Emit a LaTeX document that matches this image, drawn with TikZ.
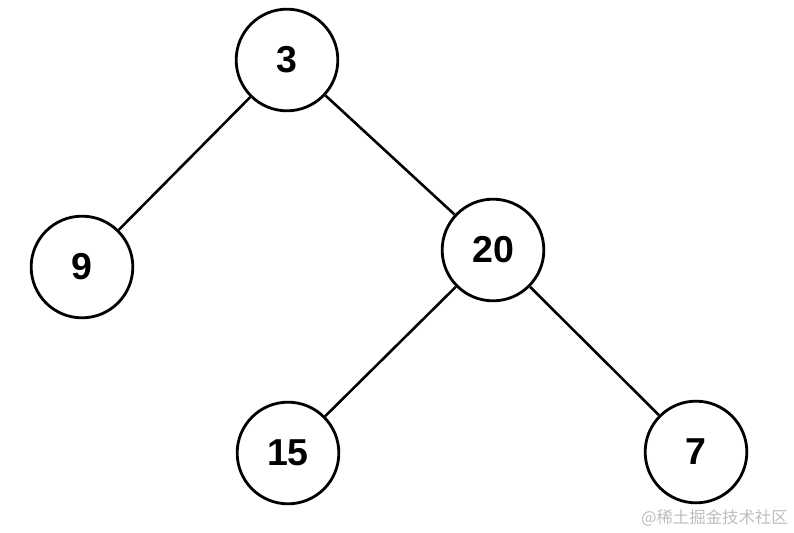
\documentclass[tikz,border=0pt]{standalone}
\usepackage{fontspec}
\setmainfont{Liberation Sans}
\newfontfamily\cjk{Noto Sans CJK SC}
\usepackage{xcolor}
\definecolor{wmgray}{HTML}{BDBDBD}

\begin{document}
\begin{tikzpicture}[x=0.03cm,y=-0.03cm,
  treenode/.style={circle, draw, line width=2.4pt, minimum size=3.05cm, inner sep=0pt,
    font=\fontsize{32}{38}\selectfont\bfseries},
  edge/.style={line width=2.2pt}]
\useasboundingbox (0,0) rectangle (794,532);

%draw tree nodes
\node[treenode] (n3) at (287,60) {3};
\node[treenode] (n9) at (82,267) {9};
\node[treenode] (n20) at (493,250) {20};
\node[treenode] (n15) at (288,453) {15};
\node[treenode] (n7) at (696,452) {7};

%draw edges
\draw[edge] (n3) -- (n9);
\draw[edge] (n3) -- (n20);
\draw[edge] (n20) -- (n15);
\draw[edge] (n20) -- (n7);

%watermark
\node[anchor=east, text=wmgray, inner sep=0pt, font=\cjk\fontsize{14}{16}\selectfont] (wm) at (788,518) {@稀土掘金技术社区};
\end{tikzpicture}
\end{document}
